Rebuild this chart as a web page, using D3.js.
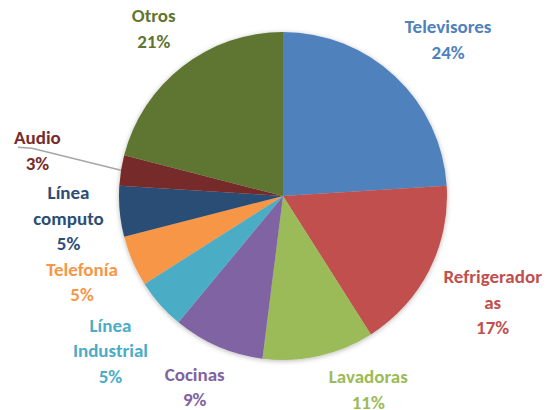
<!DOCTYPE html>
<html>
<head>
<meta charset="utf-8">
<script src="https://cdn.jsdelivr.net/npm/d3@7"></script>
<style>
  html, body { margin: 0; padding: 0; background: #fff; }
  svg { display: block; }
  text { font-family: Calibri, Carlito, Lato, "Open Sans", sans-serif; font-weight: 700; }
</style>
</head>
<body>
<svg id="chart" width="560" height="410"></svg>
<script>
// Sales share by product line (percent)
const categories = ["Televisores", "Refrigeradoras", "Lavadoras", "Cocinas", "Línea Industrial",
                    "Telefonía", "Línea computo", "Audio", "Otros"];
const shares = [24, 17, 11, 9, 5, 5, 5, 3, 21];
const sliceColors = ["#4F81BD", "#C0504D", "#9BBB59", "#8064A2", "#4BACC6",
                     "#F79646", "#2C4D75", "#772C2A", "#5F7530"];

const W = 560, H = 410;
const cx = 283, cy = 196, R = 164;
const fontSize = 19, lineH = 25.5, wrapWidth = 100, labelGap = 16;

const svg = d3.select("#chart");
const defs = svg.append("defs");
const f = defs.append("filter").attr("id", "pieShadow")
  .attr("x", "-20%").attr("y", "-20%").attr("width", "140%").attr("height", "140%");
f.append("feDropShadow").attr("dx", 0).attr("dy", 1).attr("stdDeviation", 2.5)
  .attr("flood-color", "#000").attr("flood-opacity", 0.28);

const color = d3.scaleOrdinal().domain(categories).range(sliceColors);
const pie = d3.pie().value((d, i) => shares[i]).sort(null);
const arc = d3.arc().innerRadius(0).outerRadius(R);
const arcs = pie(categories);

const g = svg.append("g").attr("transform", `translate(${cx},${cy})`);
g.append("g").attr("filter", "url(#pieShadow)")
  .selectAll("path").data(arcs).join("path")
  .attr("d", arc)
  .attr("fill", d => color(d.data));

// measure text widths for wrapping
const meas = svg.append("text").attr("font-size", fontSize).attr("visibility", "hidden");
function textW(s) { meas.text(s); return meas.node().getComputedTextLength(); }

function wrap(name) {
  const words = name.split(" ");
  const lines = [];
  let cur = "";
  for (const w of words) {
    const trial = cur ? cur + " " + w : w;
    if (textW(trial) <= wrapWidth) { cur = trial; continue; }
    if (cur) lines.push(cur);
    // break a word that is too long on its own
    let rest = w;
    while (textW(rest) > wrapWidth) {
      let k = rest.length;
      while (k > 1 && textW(rest.slice(0, k)) > wrapWidth) k--;
      lines.push(rest.slice(0, k));
      rest = rest.slice(k);
    }
    cur = rest;
  }
  if (cur) lines.push(cur);
  return lines;
}

// Anchor a label box just outside the rim: the anchor point sits on the ray
// at R + gap, and the box hangs off it on the side facing away from the pie.
const clamp1 = v => Math.max(-1, Math.min(1, v));
function placeAt(ang, w, h, extra = 0) {
  const ux = Math.sin(ang), uy = -Math.cos(ang);
  const d = R + labelGap + extra;
  const px = ux * d, py = uy * d;
  return [px + clamp1(ux * Math.SQRT2) * w / 2, py + clamp1(uy * Math.SQRT2) * h / 2];
}

function fits(x, y, w, h) {
  return x - w / 2 >= -cx + 2 && x + w / 2 <= W - cx - 2 &&
         y - h / 2 >= -cy && y + h / 2 <= H - cy + 5;
}

const labels = arcs.map((a, i) => {
  const lines = wrap(a.data).concat([shares[i] + "%"]);
  const w = d3.max(lines, textW);
  const h = lines.length * lineH;
  const mid = (a.startAngle + a.endAngle) / 2;
  // rotate around the pie, as little as possible, until the label fits the area
  let x, y;
  for (let k = 0; k < 150 && x === undefined; k++) {
    const cands = k === 0 ? [mid] : [mid - k * 0.005, mid + k * 0.005];
    for (const t of cands) {
      const p = placeAt(t, w, h);
      if (fits(p[0], p[1], w, h)) { [x, y] = p; break; }
    }
  }
  if (x === undefined) [x, y] = placeAt(mid, w, h);
  return { a, i, lines, w, h, mid, x, y };
});
meas.remove();

// the smallest slice is pushed further out and joined to it with a leader line
const small = labels.find(l => shares[l.i] === d3.min(shares));
{
  const ux = Math.sin(small.mid), uy = -Math.cos(small.mid);
  small.x += ux * 45; small.y += uy * 45 - 5;
  const px = ux * R, py = uy * R;
  const sx = small.x - small.w / 2 + 4, sy = small.y - small.h / 2 + lineH - 3;
  g.append("polyline")
    .attr("points", [[sx, sy], [sx + 14, sy + 1], [px, py]].map(p => p.join(",")).join(" "))
    .attr("fill", "none").attr("stroke", "#A6A6A6").attr("stroke-width", 1.5);
}

const lg = g.append("g");
labels.forEach(l => {
  const t = lg.append("text")
    .attr("text-anchor", "middle")
    .attr("font-size", fontSize)
    .attr("fill", color(l.a.data));
  l.lines.forEach((s, k) => {
    t.append("tspan")
      .attr("x", l.x)
      .attr("y", l.y - l.h / 2 + lineH * k + lineH * 0.5 + fontSize * 0.35)
      .text(s);
  });
});
</script>
</body>
</html>
